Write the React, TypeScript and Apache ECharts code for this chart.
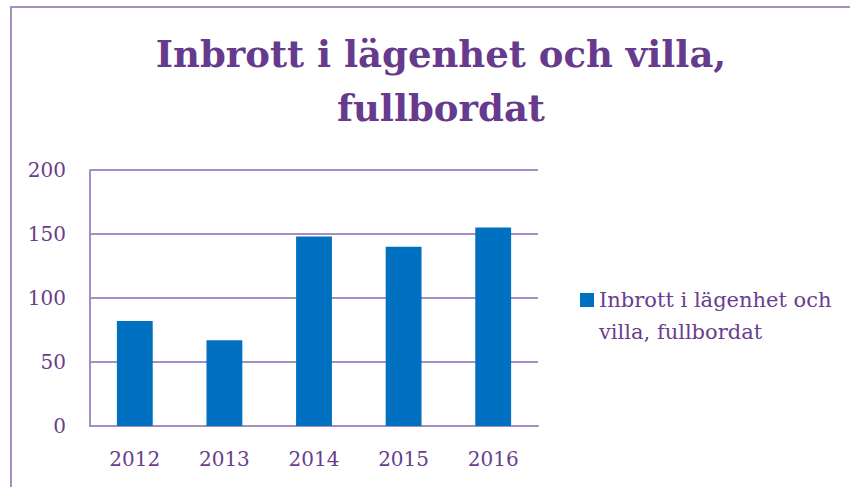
import React, { useEffect, useRef } from "react";
import * as echarts from "echarts";

const categories = ["2012", "2013", "2014", "2015", "2016"];
const values = [82, 67, 148, 140, 155];
const seriesName = "Inbrott i lägenhet och villa, fullbordat";
const titleText = "Inbrott i lägenhet och villa,\nfullbordat";
const yTicks = { min: 0, max: 200, interval: 50 };

export default function App() {
  const ref = useRef<HTMLDivElement>(null);
  useEffect(() => {
    document.body.style.margin = "0";
    const chart = echarts.init(ref.current!, null, { renderer: "svg" });
    const purple = "#6a3d8e";
    const lineColor = "#a48fc0";
    const font = "DejaVu Serif";
    chart.setOption({
      animation: false,
      backgroundColor: "#ffffff",
      title: {
        text: titleText,
        left: 436,
        textAlign: "center",
        top: 22,
        textStyle: {
          fontFamily: font,
          fontSize: 37,
          fontWeight: "bold",
          color: "#663a8c",
          lineHeight: 54,
        },
      },
      legend: {
        data: [seriesName],
        left: 575,
        top: 284,
        padding: 0,
        icon: "none",
        itemWidth: 0,
        itemHeight: 14,
        formatter: () => "{sq|}{g|}Inbrott i lägenhet och\n{sp|}villa, fullbordat",
        textStyle: {
          fontFamily: font,
          fontSize: 21,
          color: purple,
          lineHeight: 32,
          rich: {
            sq: { width: 14, height: 14, backgroundColor: "#0070c0" },
            g: { width: 5 },
            sp: { width: 19 },
          },
        },
      },
      grid: { left: 90, top: 170, right: 312, bottom: 61, containLabel: false },
      xAxis: {
        type: "category",
        data: categories,
        axisLine: { show: true, lineStyle: { color: lineColor, width: 2 } },
        axisTick: { show: false },
        axisLabel: { fontFamily: font, fontSize: 20, color: purple, margin: 23 },
      },
      yAxis: {
        type: "value",
        min: yTicks.min,
        max: yTicks.max,
        interval: yTicks.interval,
        axisLine: { show: true, lineStyle: { color: lineColor, width: 2 } },
        axisTick: { show: false },
        splitLine: { show: true, lineStyle: { color: lineColor, width: 2 } },
        axisLabel: { fontFamily: font, fontSize: 20, color: purple, margin: 24 },
      },
      series: [
        {
          name: seriesName,
          type: "bar",
          data: values,
          barWidth: "40%",
          itemStyle: { color: "#0070c0" },
        },
      ],
      graphic: [
        {
          type: "polyline",
          shape: { points: [[11, 487], [11, 7], [850, 7]] },
          style: { stroke: lineColor, lineWidth: 2, fill: null },
          silent: true,
        },
      ],
    });
    return () => chart.dispose();
  }, []);
  return <div ref={ref} style={{ width: 850, height: 487 }} />;
}
